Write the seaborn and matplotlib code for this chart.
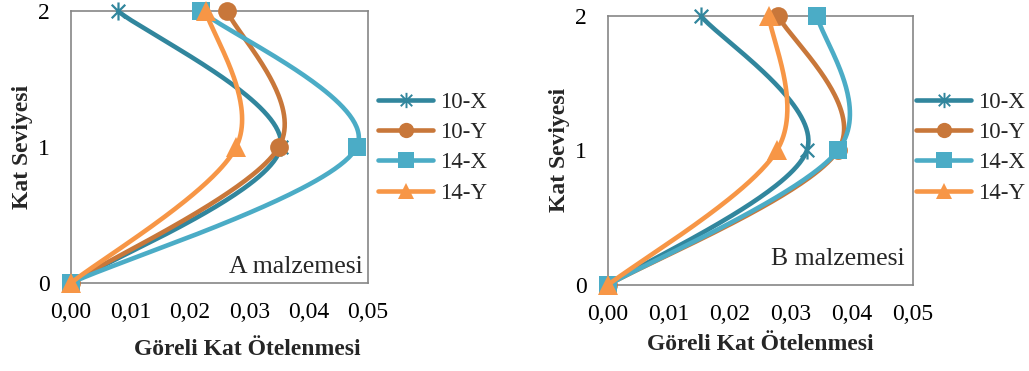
import numpy as np
import matplotlib
matplotlib.use("Agg")
import matplotlib.pyplot as plt
from matplotlib.path import Path
from matplotlib.lines import Line2D
import seaborn as sns

# Story levels and relative storey drift values for two materials
levels = [0, 1, 2]
series_names = ["10-X", "10-Y", "14-X", "14-Y"]

drift_a_10x = [0.0, 0.0353, 0.0079]
drift_a_10y = [0.0, 0.0350, 0.0263]
drift_a_14x = [0.0, 0.0481, 0.0219]
drift_a_14y = [0.0, 0.0278, 0.0227]

drift_b_10x = [0.0, 0.0326, 0.0152]
drift_b_10y = [0.0, 0.0377, 0.0279]
drift_b_14x = [0.0, 0.0377, 0.0343]
drift_b_14y = [0.0, 0.0277, 0.0264]

x_ticks = [0.00, 0.01, 0.02, 0.03, 0.04, 0.05]
x_tick_labels = ["0,00", "0,01", "0,02", "0,03", "0,04", "0,05"]
y_ticks = [0, 1, 2]
panel_titles = ["A malzemesi", "B malzemesi"]
x_label = "Göreli Kat Ötelenmesi"
y_label = "Kat Seviyesi"

colors = ["#31869D", "#C8773A", "#4BACC6", "#F79646"]

# Excel-style star marker: vertical bar plus an X
star = Path([(0, -1), (0, 1), (-0.75, -0.75), (0.75, 0.75), (-0.75, 0.75), (0.75, -0.75)],
            [Path.MOVETO, Path.LINETO] * 3)
marker_styles = [
    dict(marker=star, ms=13, mfc="none", mew=1.6),
    dict(marker="o", ms=13.5, mew=0),
    dict(marker="s", ms=13.5, mew=0),
    dict(marker="^", ms=14, mew=0),
]

sns.set_style("white")
plt.rcParams["font.family"] = "serif"
plt.rcParams["font.serif"] = ["Liberation Serif", "DejaVu Serif"]


def smooth_curve(xv, yv, sx, sy, n=80):
    """Cardinal Bezier smoothing through the points (computed in display units)."""
    P = np.column_stack([np.asarray(xv, float) * sx, np.asarray(yv, float) * sy])
    m = len(P)
    out = []
    t = np.linspace(0, 1, n)[:, None]
    for i in range(m - 1):
        p0 = P[max(i - 1, 0)]
        p1 = P[i]
        p2 = P[i + 1]
        p3 = P[min(i + 2, m - 1)]
        c1 = p1 + (p2 - p0) / 6.0
        c2 = p2 - (p3 - p1) / 6.0
        seg = (1 - t) ** 3 * p1 + 3 * (1 - t) ** 2 * t * c1 + 3 * (1 - t) * t ** 2 * c2 + t ** 3 * p2
        out.append(seg if i == 0 else seg[1:])
    pts = np.vstack(out)
    return pts[:, 0] / sx, pts[:, 1] / sy


W, H = 1029, 371
fig = plt.figure(figsize=(W / 100, H / 100), dpi=100)

# axes boxes in pixels: left, top, right, bottom
boxes = [(71, 11, 368, 283), (608, 15.7, 913, 285)]
legend_left = [378, 916]
panels = [
    [drift_a_10x, drift_a_10y, drift_a_14x, drift_a_14y],
    [drift_b_10x, drift_b_10y, drift_b_14x, drift_b_14y],
]
title_pos = [(0.983, 0.037), (0.974, 0.074)]
xlabel_x = [0.593, 0.5]
xlabel_pad = [12, 7]

grey = "#868686"
for k, (box, data) in enumerate(zip(boxes, panels)):
    l, t, r, b = box
    ax = fig.add_axes([l / W, (H - b) / H, (r - l) / W, (b - t) / H])
    w_px, h_px = r - l, b - t
    sx, sy = w_px / 0.05, h_px / 2.0
    for i, drift in enumerate(data):
        xs, ys = smooth_curve(drift, levels, sx, sy)
        sns.lineplot(x=xs, y=ys, sort=False, estimator=None, color=colors[i],
                     linewidth=3.3, ax=ax, legend=False, zorder=3 + 2 * i,
                     solid_capstyle="round")
        st = marker_styles[i]
        if st.get("mfc") == "none":
            ax.plot(drift, levels, linestyle="none", marker=st["marker"], ms=st["ms"],
                    mfc="none", mec=colors[i], mew=st["mew"], clip_on=False, zorder=4 + 2 * i)
        else:
            ax.plot(drift, levels, linestyle="none", marker=st["marker"], ms=st["ms"],
                    mfc=colors[i], mec=colors[i], mew=0, clip_on=False, zorder=4 + 2 * i)

    ax.set_xlim(0, 0.05)
    ax.set_ylim(0, 2)
    ax.set_xticks(x_ticks)
    ax.set_xticklabels(x_tick_labels)
    ax.set_yticks(y_ticks)
    ax.set_yticklabels([str(v) for v in y_ticks])
    for sp in ax.spines.values():
        sp.set_visible(True)
        sp.set_color(grey)
        sp.set_linewidth(1.2)
    ax.tick_params(axis="both", direction="out", length=5, width=1.2, color=grey,
                   labelsize=17, labelcolor="black")
    ax.tick_params(axis="x", pad=8.5)
    ax.tick_params(axis="y", pad=10)
    ax.set_xlabel(x_label, fontsize=17, fontweight="bold", labelpad=xlabel_pad[k])
    ax.set_ylabel(y_label, fontsize=17, fontweight="bold", labelpad=4)
    ax.xaxis.label.set_x(xlabel_x[k])
    ax.text(title_pos[k][0], title_pos[k][1], panel_titles[k], transform=ax.transAxes,
            ha="right", va="baseline", fontsize=18.5, zorder=20)

    handles = []
    for i, name in enumerate(series_names):
        st = marker_styles[i]
        if st.get("mfc") == "none":
            h = Line2D([], [], color=colors[i], lw=3.3, marker=st["marker"], ms=11,
                       mfc="none", mec=colors[i], mew=1.4, solid_capstyle="round")
        else:
            h = Line2D([], [], color=colors[i], lw=3.3, marker=st["marker"], ms=11,
                       mfc=colors[i], mec=colors[i], mew=0, solid_capstyle="round")
        handles.append(h)
    ax.legend(handles, series_names, loc="upper left",
              bbox_to_anchor=(legend_left[k] / W, (H - 92) / H),
              bbox_transform=fig.transFigure, frameon=False, fontsize=16.5,
              borderaxespad=0, borderpad=0, handlelength=2.4, handletextpad=0.3,
              labelspacing=0.4)

fig.savefig("out.png", dpi=100)
